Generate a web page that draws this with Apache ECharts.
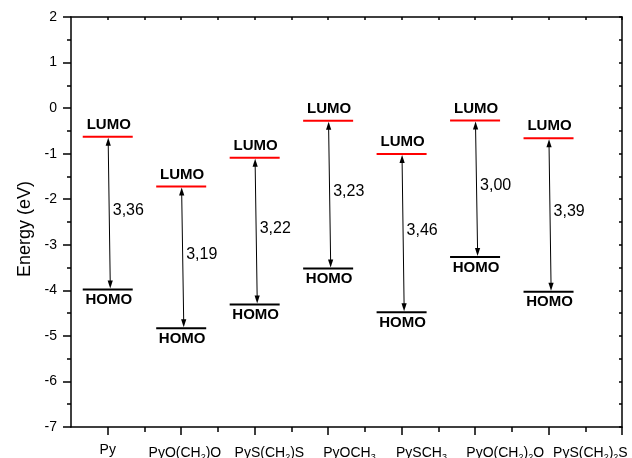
<!DOCTYPE html>
<html><head><meta charset="utf-8">
<script src="https://cdn.jsdelivr.net/npm/echarts@6/dist/echarts.min.js"></script>
<style>html,body{margin:0;padding:0;background:#fff}#c{width:632px;height:458px}</style>
</head><body><div id="c"></div>
<script>
// ---- data ----
const categories = ['Py', 'PyO(CH2)O', 'PyS(CH2)S', 'PyOCH3', 'PySCH3', 'PyO(CH2)2O', 'PyS(CH2)2S'];
const lumo = [-0.63, -1.72, -1.09, -0.28, -1.01, -0.27, -0.66];
const homo = [-3.98, -4.83, -4.31, -3.52, -4.48, -3.27, -4.03];
const gapLabels = ['3,36', '3,19', '3,22', '3,23', '3,46', '3,00', '3,39'];
const yTickValues = [-7, -6, -5, -4, -3, -2, -1, 0, 1, 2];

// ---- layout helpers (not data) ----
const catPos = categories.map((c, i) => i + 1);
const majorX = [1, 2, 3, 4, 5, 6, 7, 8];
const minorX = [1.5, 2.5, 3.5, 4.5, 5.5, 6.5, 7.5];
// label anchor positions as drawn in the reference (Origin shifts labels)
const labelAt = [1.0, 2.05, 3.2, 4.29, 5.27, 6.41, 7.57];

function toRich(name) {
  if (!/\d/.test(name)) return '{p|' + name + '}';
  return '{m|' + name.replace(/(\d)/g, '}{s|$1}{m|') + '}';
}

const FONT = '"Liberation Sans", Arial, sans-serif';
const chart = echarts.init(document.getElementById('c'), null, {renderer: 'canvas'});

const axisLine = {show: true, onZero: false, lineStyle: {color: '#000', width: 1.5}};

chart.setOption({
  animation: false,
  backgroundColor: '#fff',
  textStyle: {fontFamily: FONT, color: '#000'},
  grid: {left: 71, right: 10, top: 17, bottom: 31, containLabel: false, outerBoundsMode: 'none'},
  xAxis: [
    {
      type: 'value', position: 'bottom', min: 0.5, max: 8,
      axisLine: axisLine,
      axisTick: {show: true, customValues: majorX, length: 8, lineStyle: {color: '#000', width: 1.5}},
      axisLabel: {
        show: true, customValues: labelAt, margin: 16,
        formatter: function (v) {
          let idx = -1;
          labelAt.forEach((p, i) => { if (Math.abs(p - v) < 1e-6) idx = i; });
          return idx >= 0 ? toRich(categories[idx]) : '';
        },
        rich: {
          p: {fontSize: 14, lineHeight: 15, fontFamily: FONT, color: '#000', verticalAlign: 'top'},
          m: {fontSize: 14, lineHeight: 15, fontFamily: FONT, color: '#000', padding: [3, 0, 0, 0], verticalAlign: 'top'},
          s: {fontSize: 9, lineHeight: 9, fontFamily: FONT, color: '#000', padding: [10, 0, 0, 0], verticalAlign: 'top'}
        }
      },
      splitLine: {show: false}
    },
    {
      type: 'value', position: 'bottom', min: 0.5, max: 8,
      axisLine: {show: false, onZero: false},
      axisTick: {show: true, customValues: minorX, length: 5, lineStyle: {color: '#000', width: 1.5}},
      axisLabel: {show: false},
      splitLine: {show: false}
    },
    {
      type: 'value', position: 'top', min: 0.5, max: 8,
      axisLine: axisLine,
      axisTick: {show: true, inside: true, customValues: majorX.concat(minorX), length: 3, lineStyle: {color: '#000', width: 1.5}},
      axisLabel: {show: false},
      splitLine: {show: false}
    }
  ],
  yAxis: [
    {
      type: 'value', position: 'left', min: -7, max: 2, interval: 1,
      name: 'Energy (eV)', nameLocation: 'middle', nameGap: 28,
      nameTextStyle: {fontSize: 18, fontFamily: FONT, color: '#000', padding: [0, 14, 0, 0]},
      axisLine: axisLine,
      axisTick: {show: true, length: 8, lineStyle: {color: '#000', width: 1.5}},
      minorTick: {show: true, splitNumber: 2, length: 4, lineStyle: {color: '#000', width: 1.5}},
      axisLabel: {show: true, margin: 14, fontSize: 14, color: '#000', fontFamily: FONT,
        customValues: yTickValues},
      splitLine: {show: false}
    },
    {
      type: 'value', position: 'right', min: -7, max: 2, interval: 1,
      axisLine: axisLine,
      axisTick: {show: true, inside: true, length: 3, lineStyle: {color: '#000', width: 1.5}},
      minorTick: {show: true, splitNumber: 2, length: 3, lineStyle: {color: '#000', width: 1.5}},
      axisLabel: {show: false},
      splitLine: {show: false}
    }
  ],
  series: [{
    type: 'custom',
    xAxisIndex: 0, yAxisIndex: 0,
    clip: false,
    data: categories.map((c, i) => [catPos[i], lumo[i], homo[i], i]),
    renderItem: function (params, api) {
      const x = api.value(0), l = api.value(1), h = api.value(2), i = api.value(3);
      const pL = api.coord([x, l]);
      const pH = api.coord([x, h]);
      const hw = 25;
      const ax1 = pL[0] + 0.5, ax2 = pH[0] + 2.5;
      const headL = 8, headW = 2.6;
      return {
        type: 'group',
        children: [
          {type: 'line', shape: {x1: pL[0] - hw, y1: pL[1], x2: pL[0] + hw, y2: pL[1]},
            style: {stroke: '#ff0000', lineWidth: 2}},
          {type: 'line', shape: {x1: pH[0] - hw, y1: pH[1], x2: pH[0] + hw, y2: pH[1]},
            style: {stroke: '#000', lineWidth: 2}},
          {type: 'line', shape: {x1: ax1, y1: pL[1] + headL - 1, x2: ax2, y2: pH[1] - headL + 1},
            style: {stroke: '#000', lineWidth: 1}},
          {type: 'polygon', shape: {points: [[ax1, pL[1] + 1], [ax1 - headW, pL[1] + 1 + headL], [ax1 + headW, pL[1] + 1 + headL]]},
            style: {fill: '#000'}},
          {type: 'polygon', shape: {points: [[ax2, pH[1] - 1], [ax2 - headW, pH[1] - 1 - headL], [ax2 + headW, pH[1] - 1 - headL]]},
            style: {fill: '#000'}},
          {type: 'text', x: pL[0] + 1, y: pL[1] - 12,
            style: {text: 'LUMO', font: 'bold 15px ' + FONT, fill: '#000', align: 'center', verticalAlign: 'middle'}},
          {type: 'text', x: pH[0] + 1, y: pH[1] + 10.5,
            style: {text: 'HOMO', font: 'bold 15px ' + FONT, fill: '#000', align: 'center', verticalAlign: 'middle'}},
          {type: 'text', x: (ax1 + ax2) / 2 + 3.5, y: (pL[1] + pH[1]) / 2 - 3,
            style: {text: gapLabels[i], font: '16px ' + FONT, fill: '#000', align: 'left', verticalAlign: 'middle'}}
        ]
      };
    }
  }]
});
</script>
</body></html>
